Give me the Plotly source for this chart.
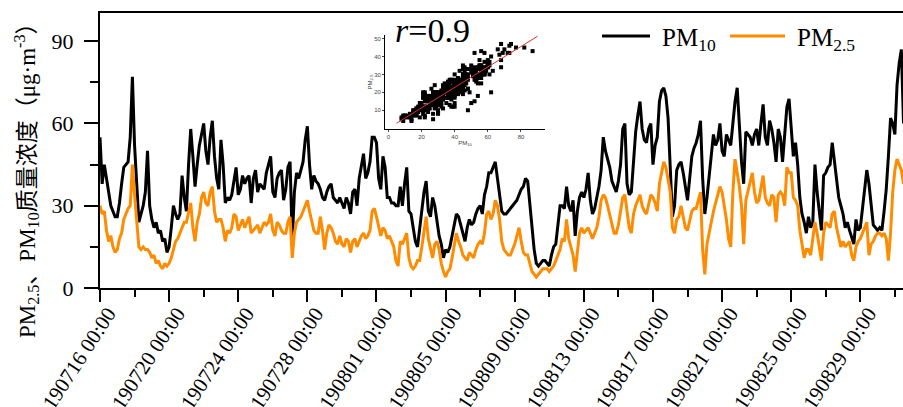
import numpy as np
import pandas as pd
import plotly.graph_objects as go

# ---- data (3-hourly readings, starting 2019-07-16 00:00) ----
start_time = "2019-07-16 00:00"
step = "3h"

pm10 = [
    55, 38, 45, 39, 35, 30, 28, 26,
    26, 31, 38, 44, 45, 46, 55, 77,
    52, 37, 24, 27, 30, 35, 50, 30,
    25, 22, 24, 20, 21, 17, 18, 13,
    15, 22, 30, 27, 25, 27, 41, 33,
    28, 45, 58, 48, 37, 45, 52, 56,
    60, 50, 45, 55, 61, 48, 40, 36,
    54, 45, 31, 33, 32, 34, 40, 44,
    34, 36, 41, 38, 40, 41, 31, 40,
    43, 35, 38, 37, 36, 42, 45, 48,
    35, 33, 40, 42, 43, 32, 36, 44,
    46, 17, 35, 42, 40, 43, 46, 54,
    59, 45, 36, 41, 39, 38, 36, 33,
    32, 35, 37, 38, 33, 32, 31, 33,
    31, 29, 33, 31, 27, 35, 36, 30,
    40, 45, 49, 40, 42, 46, 55, 55,
    53, 40, 36, 48, 44, 33, 33, 31,
    31, 30, 30, 37, 30, 38, 44, 28,
    27, 22, 17, 15, 22, 30, 35, 39,
    28, 26, 33, 30, 24, 19, 16, 11,
    14, 13, 15, 19, 24, 27, 26, 23,
    20, 17, 22, 25, 23, 24, 27, 29,
    30, 27, 34, 37, 42, 42, 44, 46,
    40, 34, 28, 27, 27, 28, 29, 30,
    31, 32, 34, 36, 37, 40, 39, 30,
    22, 14, 9, 8, 9, 10, 10, 9,
    8, 12, 15, 16, 22, 30, 30, 29,
    37, 30, 28, 32, 19, 28, 33, 35,
    33, 36, 42, 32, 27, 29, 33, 37,
    43, 55, 50, 47, 44, 39, 37, 35,
    39, 45, 58, 60, 38, 34, 35, 46,
    57, 63, 68, 58, 54, 53, 58, 60,
    45, 52, 55, 68, 72, 73, 70, 62,
    45, 26, 30, 43, 45, 46, 42, 37,
    32, 40, 48, 51, 53, 56, 61, 40,
    27, 33, 40, 47, 56, 52, 54, 60,
    50, 48, 56, 54, 52, 60, 68, 73,
    58, 46, 38, 57, 56, 55, 52, 56,
    58, 52, 60, 67, 55, 52, 61, 58,
    53, 46, 58, 55, 46, 58, 66, 69,
    58, 48, 53, 45, 33, 27, 24, 20,
    26, 22, 24, 45, 35, 28, 21, 41,
    42, 44, 45, 53, 46, 38, 33, 30,
    27, 22, 24, 21, 18, 16, 25, 21,
    22, 29, 36, 43, 38, 30, 23, 22,
    21, 22, 21, 28, 36, 48, 62, 60,
    56, 74, 82, 87, 60,
]

pm25 = [
    30, 27, 28, 21, 17, 19, 15, 13,
    14, 18, 20, 25, 27, 29, 30, 45,
    34, 23, 15, 14, 15, 14, 14, 13,
    11, 12, 9, 10, 8, 7, 9, 8,
    9, 11, 14, 17, 18, 20, 22, 24,
    24, 28, 31, 22, 17, 24, 27, 33,
    35, 31, 30, 35, 37, 28, 24, 25,
    25, 22, 17, 21, 20, 22, 27, 26,
    21, 23, 25, 22, 24, 26, 20, 21,
    22, 23, 20, 22, 24, 23, 24, 27,
    21, 19, 24, 23, 21, 20, 20, 24,
    26, 11, 20, 24, 25, 26, 28, 30,
    32, 28, 24, 21, 20, 20, 26, 21,
    14, 20, 23, 22, 20, 17, 16, 19,
    16, 15, 18, 17, 13, 17, 18, 15,
    17, 19, 20, 18, 19, 21, 28, 29,
    26, 22, 19, 22, 21, 18, 19, 17,
    15, 10, 8, 17, 16, 18, 20, 11,
    8, 7, 8, 10, 10, 15, 21, 26,
    18, 15, 11, 16, 17, 14, 9, 6,
    4, 6, 7, 11, 16, 20, 17, 15,
    12, 11, 10, 13, 12, 11, 14, 16,
    17, 16, 20, 27, 28, 25, 27, 32,
    30, 25, 17, 14, 13, 12, 12, 14,
    16, 19, 22, 17, 13, 12, 12, 9,
    6, 5, 4, 5, 6, 7, 7, 7,
    6, 7, 8, 10, 12, 14, 18, 17,
    25, 18, 15, 12, 6, 14, 20, 22,
    20, 21, 22, 20, 18, 20, 22, 26,
    32, 34, 33, 30, 27, 23, 20, 20,
    23, 28, 33, 34, 27, 22, 20, 27,
    30, 32, 34, 30, 28, 27, 31, 34,
    33, 31, 28, 38, 42, 46, 44, 40,
    35, 22, 20, 25, 26, 30, 26, 22,
    21, 24, 28, 29, 29, 32, 35, 14,
    5, 16, 20, 25, 28, 31, 34, 37,
    35, 30, 25, 18, 15, 35, 47, 42,
    37, 30, 16, 32, 35, 38, 42, 35,
    31, 32, 36, 41, 33, 31, 30, 34,
    33, 24, 34, 35, 34, 30, 44, 42,
    42, 33, 32, 30, 21, 15, 11, 14,
    14, 12, 18, 24, 20, 14, 10, 20,
    24, 23, 22, 27, 28, 22, 18, 15,
    17, 15, 16, 17, 12, 10, 15, 17,
    18, 20, 22, 24, 12, 16, 17, 19,
    20, 20, 19, 20, 18, 10, 20, 35,
    43, 47, 45, 43, 38,
]

series_names = ["PM<sub>10</sub>", "PM<sub>2.5</sub>"]
series_colors = ["#000000", "#ff8c00"]
y_ticks = [0, 30, 60, 90]
inset_x_ticks = [0, 20, 40, 60, 80]
inset_y_ticks = [10, 20, 30, 40, 50]
r_value = 0.9

assert len(pm10) == len(pm25)
times = pd.date_range(start_time, periods=len(pm10), freq=step)

SERIF = "Liberation Serif, Noto Sans CJK SC, serif"

fig = go.Figure()
for name, vals, col in zip(series_names, [pm10, pm25], series_colors):
    fig.add_trace(go.Scatter(x=times, y=vals, mode="lines", name=name,
                             line=dict(color=col, width=3), showlegend=False))

# ---- inset scatter: PM2.5 vs PM10 ----
slope, intercept = np.polyfit(pm10, pm25, 1)
fit_x = np.array([5, 90])
fig.add_trace(go.Scatter(x=pm10, y=pm25, mode="markers", xaxis="x2", yaxis="y2",
                         marker=dict(symbol="square", size=4, color="black"),
                         showlegend=False))
fig.add_trace(go.Scatter(x=fit_x, y=slope * fit_x + intercept, mode="lines",
                         xaxis="x2", yaxis="y2",
                         line=dict(color="#e03030", width=1), showlegend=False))

x_end = pd.Timestamp(start_time) + pd.Timedelta(days=46.47)

fig.update_layout(
    width=903, height=407,
    margin=dict(l=100, r=0, t=13, b=119, autoexpand=False),
    paper_bgcolor="white", plot_bgcolor="white",
    font=dict(family=SERIF, color="black", size=22),
    showlegend=False,
    xaxis=dict(
        type="date", range=[pd.Timestamp(start_time), x_end], automargin=False,
        tick0=start_time, dtick=4 * 86400000, tickformat="%y%m%d %H:%M",
        tickangle=-57, ticks="outside", ticklen=12, tickwidth=2, tickcolor="black",
        minor=dict(dtick=2 * 86400000, ticks="outside", ticklen=7, tickwidth=2,
                   tickcolor="black"),
        showline=True, linewidth=2, linecolor="black", mirror=True,
        showgrid=False, zeroline=False, ticklabelstandoff=-9, ticklabelshift=8,
        tickfont=dict(size=21, family=SERIF),
    ),
    yaxis=dict(
        range=[0, 100.3], tickvals=y_ticks, ticks="outside", ticklen=14, tickwidth=2,
        tickcolor="black", automargin=False,
        minor=dict(dtick=15, ticks="outside", ticklen=8, tickwidth=2, tickcolor="black"),
        showline=True, linewidth=2, linecolor="black", mirror=False,
        showgrid=False, zeroline=False, ticklabelstandoff=6,
        tickfont=dict(size=22, family=SERIF),
    ),
    xaxis2=dict(domain=[0.3549, 0.5542], anchor="y2", range=[-2, 94.5],
                tickvals=inset_x_ticks, ticks="outside", ticklen=2, tickwidth=0.5,
                showline=True, linewidth=0.8, linecolor="black", showgrid=False,
                zeroline=False, tickfont=dict(size=6, color="#444", family="Liberation Sans"),
                title=dict(text="PM<sub>10</sub>", standoff=0,
                           font=dict(size=6, color="#444", family="Liberation Sans"))),
    yaxis2=dict(domain=[0.578, 0.92], anchor="x2", range=[-0.5, 52],
                tickvals=inset_y_ticks, ticks="outside", ticklen=2, tickwidth=0.5,
                showline=True, linewidth=0.8, linecolor="black", showgrid=False,
                zeroline=False, tickfont=dict(size=6, color="#444", family="Liberation Sans"),
                title=dict(text="PM<sub>2.5</sub>", standoff=0,
                           font=dict(size=6, color="#444", family="Liberation Sans"))),
)

# ---- legend (drawn as line samples + text, to get the long sample lines) ----
legend_y = (288 - 36) / 275
legend_lines = [(602, 650), (730, 785)]
for (x0, x1), name, col in zip(legend_lines, series_names, series_colors):
    fig.add_shape(type="line", xref="paper", yref="paper",
                  x0=(x0 - 100) / 803, x1=(x1 - 100) / 803, y0=legend_y, y1=legend_y,
                  line=dict(color=col, width=3))
    fig.add_annotation(text=name, xref="paper", yref="paper",
                       x=(x1 + 10 - 100) / 803, y=(288 - 40) / 275,
                       xanchor="left", yanchor="middle", showarrow=False,
                       font=dict(size=25, family=SERIF, color="black"))

fig.add_annotation(
    text="PM<sub>2.5</sub>、PM<sub>10</sub>质量浓度（μg·m<sup>-3</sup>）",
    xref="paper", yref="paper", x=(26 - 100) / 803, y=(288 - 175) / 275,
    xanchor="center", yanchor="middle", textangle=-90, showarrow=False,
    font=dict(size=23, family=SERIF, color="black"),
)
fig.add_annotation(
    text="<i>r</i>=%.1f" % r_value,
    xref="paper", yref="paper", x=(432 - 100) / 803, y=(288 - 31) / 275,
    xanchor="center", yanchor="middle", showarrow=False,
    font=dict(size=34, family=SERIF, color="black"),
)

fig.write_html("out.html")
